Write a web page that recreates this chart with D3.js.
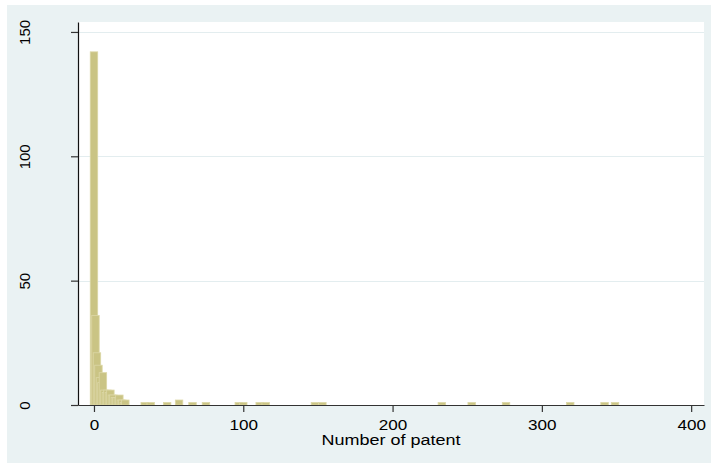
<!DOCTYPE html>
<html>
<head>
<meta charset="utf-8">
<script src="https://cdn.jsdelivr.net/npm/d3@7"></script>
<style>
  html, body { margin: 0; padding: 0; background: #ffffff; }
  svg { display: block; }
  text { font-family: "Liberation Sans", Arial, sans-serif; fill: #000; }
</style>
</head>
<body>
<svg id="chart" width="711" height="468"></svg>
<script>
// Distinct numbers of patents and their frequencies (discrete histogram, bar width 5)
const patentValues = [0, 1, 2, 3, 4, 5, 6, 7, 8, 9, 10, 11, 12, 13, 14, 15, 16, 17, 18, 19, 20, 21,
                      34, 38, 49, 57, 66, 75, 97, 100, 111, 115, 148, 153, 233, 253, 276, 319, 342, 349];
const frequencies  = [142, 36, 21, 16, 11, 9, 13, 6, 5, 6, 5, 6, 4, 4, 3, 3, 3, 4, 2, 2, 1, 2,
                      1, 1, 1, 2, 1, 1, 1, 1, 1, 1, 1, 1, 1, 1, 1, 1, 1, 1];
const barWidth = 5;
const xTicks = [0, 100, 200, 300, 400];
const yTicks = [0, 50, 100, 150];
const xTitle = "Number of patent";

const svg = d3.select("#chart");
const plot = { left: 78, right: 704, top: 22, bottom: 405 };

// outer graph region
svg.append("rect").attr("x", 7).attr("y", 5).attr("width", 704).attr("height", 458)
  .attr("fill", "#eaf2f3");
// plot region
svg.append("rect").attr("x", plot.left).attr("y", plot.top)
  .attr("width", plot.right - plot.left).attr("height", plot.bottom - plot.top)
  .attr("fill", "#ffffff");

const x = d3.scaleLinear().domain([-10.7, 408.6]).range([plot.left, plot.right]);
const y = d3.scaleLinear().domain([0, 154]).range([plot.bottom, plot.top]);

// gridlines
svg.append("g").selectAll("line").data(yTicks.filter(d => d > 0)).join("line")
  .attr("x1", plot.left).attr("x2", plot.right)
  .attr("y1", d => Math.round(y(d)) + 0.5).attr("y2", d => Math.round(y(d)) + 0.5)
  .attr("stroke", "#e3edef").attr("stroke-width", 1);

// bars
const data = patentValues.map((v, i) => ({ v, n: frequencies[i] }));
svg.append("g").selectAll("rect").data(data).join("rect")
  .attr("x", d => x(d.v - barWidth / 2))
  .attr("width", d => x(d.v + barWidth / 2) - x(d.v - barWidth / 2))
  .attr("y", d => y(d.n))
  .attr("height", d => y(0) - y(d.n))
  .attr("fill", "#cac484")
  .attr("stroke", "#dcd7a6")
  .attr("stroke-width", 0.8);

// x axis
const gx = svg.append("g").attr("transform", `translate(0,${plot.bottom})`)
  .call(d3.axisBottom(x).tickValues(xTicks).tickSizeInner(7).tickSizeOuter(0).tickFormat(d3.format("d")));
gx.select(".domain").attr("stroke", "#333").attr("stroke-width", 1.2);
gx.selectAll(".tick line").attr("stroke", "#333").attr("stroke-width", 1.2);
gx.selectAll(".tick text")
  .attr("y", 25).attr("dy", 0)
  .attr("transform", "scale(1.14,1)")
  .style("font-size", "15px")
  .style("font-family", "'Liberation Sans', Arial, sans-serif")
  .attr("fill", "#000");

// y axis
const gy = svg.append("g").attr("transform", `translate(${plot.left},0)`)
  .call(d3.axisLeft(y).tickValues(yTicks).tickSizeInner(7).tickSizeOuter(0).tickFormat(d3.format("d")));
gy.select(".domain").attr("stroke", "#111").attr("stroke-width", 1.2);
gy.selectAll(".tick line").attr("stroke", "#333").attr("stroke-width", 1.2);
gy.selectAll(".tick text")
  .attr("x", 0).attr("y", 0).attr("dy", 0)
  .attr("text-anchor", "middle")
  .attr("transform", `translate(${29.5 - plot.left},0) rotate(-90)`)
  .style("font-size", "15px")
  .style("font-family", "'Liberation Sans', Arial, sans-serif")
  .attr("fill", "#000");

// x axis title
svg.append("text")
  .attr("transform", `translate(${(plot.left + plot.right) / 2},445) scale(1.2,1)`)
  .attr("text-anchor", "middle")
  .style("font-size", "15px")
  .text(xTitle);
</script>
</body>
</html>
